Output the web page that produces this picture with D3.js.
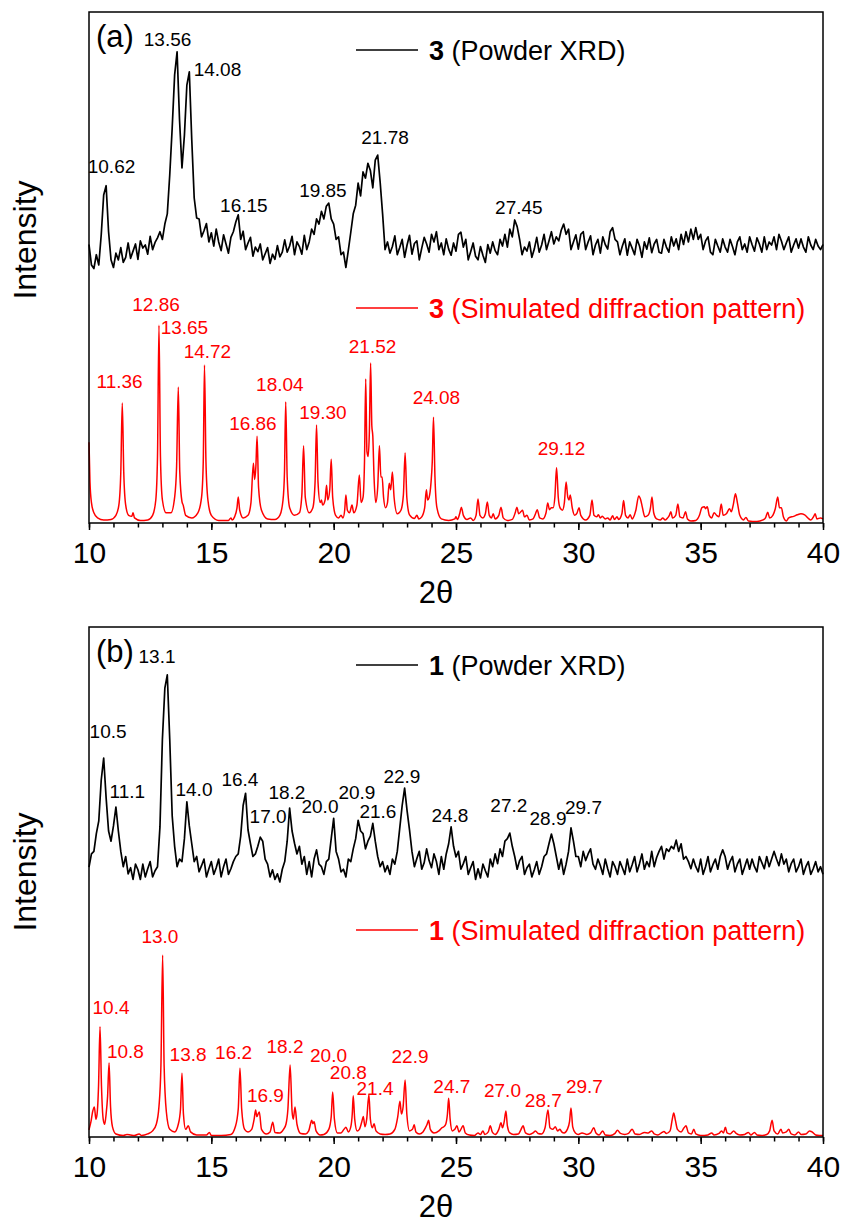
<!DOCTYPE html>
<html lang="en">
<head>
<meta charset="utf-8">
<title>XRD patterns</title>
<style>
  body { margin: 0; background: #fff; }
  svg { display: block; font-family: "Liberation Sans", Arial, sans-serif; }
  .tick text { font-size: 30px; fill: #000; }
  .tick line { stroke: #000; stroke-width: 1.5; }
</style>
</head>
<body>
<div id="chart"></div>
<script src="https://d3js.org/d3.v7.min.js"></script>
<script>
// ---- data ----
// powder patterns: measured on a 0.1 deg grid starting at 10 deg
var gridStart = 10, gridStep = 0.1;

var powder3 = [
  54.5,50.5,49.8,52.5,50.5,56.4,64.2,66.0,57.0,51.5,
  50.0,52.8,51.5,53.9,51.0,52.0,54.8,51.8,53.2,54.6,
  51.6,55.2,53.8,54.4,52.6,56.1,53.5,54.9,55.8,57.0,
  55.5,58.5,60.5,68.1,77.3,87.7,92.2,78.9,69.5,75.9,
  85.7,88.3,75.0,63.6,59.7,59.5,56.0,57.2,58.6,55.0,
  56.8,54.2,57.5,55.0,53.3,56.4,54.6,52.8,55.9,57.0,
  58.9,60.3,55.5,57.1,53.5,54.8,55.9,52.2,54.0,53.1,
  54.6,51.5,52.7,53.9,50.8,52.6,51.6,54.3,52.1,53.0,
  55.4,53.0,54.2,56.1,52.5,55.0,54.1,52.6,56.3,53.5,
  55.0,57.5,56.5,59.5,58.5,61.0,59.5,62.0,62.6,59.5,
  58.5,55.5,56.0,52.5,53.0,50.0,53.4,56.9,60.5,62.2,
  66.5,64.0,68.7,67.5,70.4,69.0,65.6,71.0,72.0,66.7,
  60.5,53.5,55.0,52.8,54.1,56.2,52.5,53.9,55.5,52.0,
  54.4,56.3,52.6,54.7,55.2,51.5,53.8,55.9,54.6,53.0,
  56.5,55.0,57.0,53.5,54.8,52.5,55.6,53.6,52.4,54.8,
  53.2,56.5,56.9,54.0,55.5,51.5,53.1,54.8,52.2,51.5,
  54.1,52.4,51.0,54.5,52.8,55.0,53.3,52.5,55.5,54.2,
  56.5,54.0,57.5,56.0,59.3,58.0,55.5,52.5,54.0,53.2,
  55.0,52.0,53.6,55.9,53.0,54.4,56.5,53.5,55.2,57.0,
  54.6,56.0,55.2,57.3,58.5,56.5,57.5,53.5,55.0,56.4,
  53.6,56.5,57.0,53.5,55.0,56.2,52.5,54.4,55.5,52.8,
  56.0,54.5,53.6,57.0,57.8,55.5,55.0,52.5,54.2,55.6,
  52.4,55.0,53.8,52.5,55.5,54.2,52.0,55.0,53.6,55.8,
  52.9,54.6,55.5,53.0,52.8,55.5,54.0,53.0,56.0,54.2,
  55.6,53.5,56.5,54.5,57.0,55.0,57.5,55.5,57.8,55.5,
  56.5,53.5,55.2,56.0,53.0,52.5,55.5,54.2,53.0,55.6,
  54.0,53.0,55.5,54.1,52.5,55.0,56.0,53.5,54.6,53.0,
  56.0,54.5,53.2,55.8,54.6,53.0,56.0,53.5,55.0,54.4,
  56.0,53.5,56.5,55.2,53.5,54.8,56.0,53.0,54.4,55.6,
  53.8,55.6,54.0,53.0,56.0,54.4,53.5,55.5,54.2,53.5,
  54.5
];

var powder1 = [
  52.9,55.5,56.0,59.5,62.0,70.0,74.3,66.5,60.0,58.0,
  61.0,64.7,60.0,56.0,53.0,55.0,51.6,52.8,50.5,53.5,
  52.4,50.5,53.5,51.0,52.6,54.0,51.0,52.2,53.0,60.8,
  78.0,88.0,90.6,78.0,63.0,57.0,53.0,54.5,54.0,58.5,
  65.7,61.0,57.5,54.0,55.0,52.0,53.2,54.5,51.0,52.6,
  54.0,51.5,52.8,54.5,51.0,53.0,54.5,51.5,52.6,54.0,
  55.0,55.5,59.0,65.0,67.4,60.2,57.5,55.0,55.5,57.0,
  58.8,58.0,54.5,53.5,51.0,52.4,50.5,51.6,50.0,52.5,
  54.0,58.0,64.5,60.0,57.6,55.5,57.0,53.5,55.0,51.5,
  54.0,51.0,54.5,56.3,53.5,53.0,51.5,54.0,54.5,58.5,
  62.5,56.0,54.5,52.0,52.5,51.0,54.5,54.0,56.5,58.5,
  62.1,60.0,59.5,56.5,58.0,59.0,61.5,58.0,55.0,53.0,
  54.0,52.0,53.2,51.5,54.5,53.5,56.0,60.5,65.0,68.4,
  64.0,60.2,56.0,53.0,54.6,56.0,52.5,53.8,56.5,54.2,
  52.8,55.5,54.0,51.5,55.0,52.5,55.5,57.5,60.8,57.0,
  54.9,56.0,52.5,53.6,55.0,51.5,52.8,54.0,50.5,52.6,
  50.8,53.5,52.2,51.0,54.5,53.0,55.5,53.6,56.5,55.0,
  58.0,58.5,59.6,57.0,55.0,52.5,54.2,55.0,51.5,52.8,
  53.5,51.0,52.4,54.0,51.5,53.0,55.0,55.5,57.5,59.4,
  57.5,55.0,52.5,54.5,51.5,53.5,56.0,60.6,58.0,55.0,
  55.0,53.0,56.0,54.2,55.5,56.5,53.5,52.5,54.5,53.2,
  51.5,54.5,52.6,51.0,54.0,53.0,51.5,54.0,52.8,51.5,
  54.5,52.0,53.4,55.0,52.0,53.6,55.5,52.5,54.0,53.0,
  56.0,53.0,54.8,56.0,57.0,54.5,56.5,56.0,57.0,56.5,
  58.2,56.0,57.5,54.5,55.0,54.0,52.6,54.5,53.0,52.0,
  54.5,51.5,53.0,55.0,52.0,53.4,54.5,52.5,55.0,56.3,
  55.0,52.5,54.0,55.0,52.0,53.5,54.5,51.5,53.0,54.5,
  52.5,54.5,53.0,52.0,55.0,53.8,52.6,55.0,53.0,54.5,
  56.0,54.5,53.2,55.5,53.5,54.5,52.0,53.6,54.5,52.0,
  53.0,54.5,51.5,53.0,54.0,51.5,52.6,54.0,52.0,53.0,
  51.5
];

// simulated patterns: [2theta, intensity]
var sim3 = [
  [10.00,15.8],[10.04,8],[10.1,4],[10.2,2],[10.35,1],[10.6,0.6],[10.9,0.7],[11.1,1.5],[11.22,3.5],[11.3,10],
  [11.36,23.5],[11.42,10],[11.5,3.5],[11.62,1.5],[11.75,1.3],[11.8,2.0],[11.86,1.0],[12.1,0.5],[12.4,0.6],[12.6,1.5],
  [12.73,4.5],[12.8,13],[12.86,38.7],[12.92,13],[13.0,4.5],[13.15,2],[13.35,2],[13.5,5],[13.58,11],[13.65,26.6],
  [13.71,10],[13.8,4.2],[13.85,3.5],[13.95,1.5],[14.2,1],[14.45,2],[14.6,5],[14.67,12],[14.72,30.9],[14.78,12],
  [14.86,4.5],[15.0,1.5],[15.3,0.5],[15.7,0.5],[15.8,1.0],[15.85,0.6],[15.95,1.2],[16.05,3],[16.1,5.1],[16.16,2.5],
  [16.3,1.0],[16.5,1.5],[16.62,4],[16.72,11.7],[16.77,8.5],[16.82,11],[16.87,17.0],[16.93,7],[17.05,2.5],[17.3,0.8],
  [17.6,0.7],[17.8,1.5],[17.93,4.5],[17.99,10],[18.04,23.7],[18.1,9],[18.2,3],[18.4,1.5],[18.6,2],[18.7,5.5],
  [18.77,15.1],[18.84,5],[19.0,2],[19.15,3],[19.24,8],[19.3,19.2],[19.36,8],[19.45,4],[19.5,4.5],[19.55,3.5],
  [19.65,4.5],[19.71,7.4],[19.76,4.5],[19.84,6.5],[19.9,12.5],[19.96,5],[20.08,1.5],[20.2,1],[20.3,1.5],[20.38,1.0],
  [20.45,2.5],[20.5,5.5],[20.56,2.5],[20.65,2],[20.75,3.5],[20.82,2],[20.95,3.5],[21.05,9.4],[21.12,4],[21.2,5],
  [21.26,12],[21.31,28.2],[21.36,14],[21.41,13],[21.46,18],[21.51,31.3],[21.56,19],[21.6,17],[21.65,9],[21.72,4],
  [21.8,7],[21.87,15.1],[21.93,9],[21.98,9.0],[22.04,5],[22.12,3],[22.2,4],[22.27,7.8],[22.33,6.5],[22.4,10.0],
  [22.47,5],[22.6,1.8],[22.75,2.5],[22.85,5.5],[22.92,13.7],[22.99,5],[23.1,1.6],[23.3,0.9],[23.4,1.5],[23.48,0.8],
  [23.6,1.2],[23.72,3],[23.79,6.5],[23.84,4.5],[23.9,5],[23.98,8],[24.03,12],[24.08,20.7],[24.14,9],[24.22,3],
  [24.4,0.8],[24.7,0.5],[24.95,0.8],[25.0,1.2],[25.06,0.7],[25.15,1.8],[25.22,3.1],[25.3,1.5],[25.45,0.7],[25.6,1.0],
  [25.7,0.5],[25.82,1.5],[25.9,4.7],[25.98,1.5],[26.1,1],[26.2,1.8],[26.28,4.1],[26.36,1.5],[26.45,1.0],[26.52,1.8],
  [26.6,0.8],[26.75,1.5],[26.84,3.1],[26.93,1.0],[27.1,0.5],[27.3,0.7],[27.42,2.0],[27.49,3.1],[27.56,1.8],[27.65,2.2],
  [27.72,2.5],[27.8,1.2],[27.9,1.5],[28.0,0.6],[28.15,0.8],[28.25,1.8],[28.32,2.6],[28.42,1.0],[28.55,0.8],[28.68,2],
  [28.75,3.9],[28.82,2.6],[28.9,3],[28.97,3.0],[29.04,5],[29.11,10.8],[29.18,5],[29.25,3],[29.35,2.5],[29.43,4],
  [29.5,8.0],[29.57,5],[29.62,4.5],[29.67,5.5],[29.75,3],[29.85,1.5],[29.95,2],[30.03,3.0],[30.1,1.5],[30.3,0.6],
  [30.47,1.5],[30.56,4.5],[30.64,1.5],[30.75,1.2],[30.82,1.6],[30.9,1.0],[30.98,1.3],[31.1,0.8],[31.2,1.0],[31.3,0.6],
  [31.4,1.4],[31.48,0.7],[31.58,1.2],[31.65,0.7],[31.78,1.8],[31.85,4.4],[31.93,1.5],[32.03,1.0],[32.12,1.6],[32.2,0.8],
  [32.35,2.5],[32.47,5.3],[32.55,4.5],[32.62,3.0],[32.72,1.2],[32.85,1.5],[32.95,3],[33.01,5.1],[33.08,2],[33.2,0.8],
  [33.35,0.6],[33.45,1.0],[33.55,0.6],[33.65,1.0],[33.72,1.5],[33.78,2.2],[33.85,1.0],[33.98,1.5],[34.07,3.7],[34.15,1.2],
  [34.28,1.0],[34.38,2.2],[34.46,0.8],[34.6,0.4],[34.8,0.5],[34.95,1.5],[35.05,3.0],[35.15,3.2],[35.2,2.8],[35.27,3.2],
  [35.35,1.5],[35.45,1.0],[35.55,2.0],[35.65,1.5],[35.75,1.2],[35.84,3.7],[35.92,1.5],[36.05,1.8],[36.18,2.8],[36.25,2.2],
  [36.33,3.5],[36.42,5.7],[36.5,4.0],[36.6,1.5],[36.75,0.6],[36.85,1.1],[36.95,0.4],[37.3,0.3],[37.55,0.6],[37.65,1.0],
  [37.74,2.1],[37.82,1.0],[37.95,1.5],[38.05,2.8],[38.15,5.1],[38.22,3.0],[38.3,3.0],[38.38,1.2],[38.5,0.4],[38.6,1.0],
  [38.8,1.3],[38.95,1.6],[39.1,1.8],[39.25,1.6],[39.4,0.9],[39.5,0.6],[39.62,1.3],[39.68,1.8],[39.75,0.8],[39.9,1.0],
  [40.0,0.8]
];

var sim1 = [
  [10.0,1.4],[10.08,3],[10.15,5],[10.22,5.9],[10.28,3.5],[10.33,4.5],[10.39,10],[10.45,21.6],[10.51,10],[10.58,3.5],
  [10.64,2.5],[10.7,4.5],[10.76,8],[10.82,14.5],[10.88,6],[10.96,2],[11.1,0.6],[11.4,0.3],[11.55,0.5],[11.7,0.4],
  [11.85,0.3],[12.05,0.6],[12.15,0.3],[12.4,0.6],[12.6,1.2],[12.75,2.5],[12.86,6],[12.94,14],[13.01,35.7],[13.07,14],
  [13.16,5],[13.3,1.5],[13.5,1],[13.65,2.5],[13.74,5.5],[13.8,12.5],[13.86,4.5],[13.95,1.5],[14.06,2.2],[14.15,1],
  [14.4,0.4],[14.8,0.4],[14.92,0.9],[15.0,0.3],[15.4,0.3],[15.8,0.5],[15.98,2],[16.1,5.5],[16.17,13.5],[16.24,5.5],
  [16.36,1.5],[16.5,1.0],[16.65,1.5],[16.75,3.5],[16.81,5.3],[16.86,4],[16.91,4.5],[16.96,4.9],[17.05,1.5],[17.25,0.6],
  [17.4,1.0],[17.51,2.9],[17.6,0.9],[17.8,0.8],[17.95,1.5],[18.05,2.5],[18.13,5.5],[18.22,14.1],[18.3,5],[18.35,3.5],
  [18.42,5.9],[18.5,2.5],[18.65,0.7],[18.85,0.6],[18.98,1.2],[19.05,2.5],[19.1,3.3],[19.15,2.6],[19.2,3.0],[19.28,1.2],
  [19.45,0.4],[19.6,0.5],[19.8,1.5],[19.9,4],[19.96,8.8],[20.03,3.5],[20.15,0.8],[20.3,0.8],[20.42,1.5],[20.5,1.9],
  [20.6,1.0],[20.7,2],[20.76,4.5],[20.8,8.1],[20.86,3.5],[20.96,1.2],[21.05,1.5],[21.15,3],[21.21,4.0],[21.28,2],
  [21.35,3.5],[21.44,8.3],[21.5,3.5],[21.58,1.8],[21.65,2.6],[21.73,1.2],[21.9,0.6],[22.1,0.5],[22.3,0.6],[22.5,1.5],
  [22.62,4],[22.71,7.0],[22.77,4.5],[22.84,6],[22.92,11.2],[22.99,4.5],[23.1,1.2],[23.22,1.5],[23.29,2.4],[23.36,1.0],
  [23.5,0.6],[23.65,1.0],[23.75,1.8],[23.82,2.5],[23.88,3.3],[23.95,1.5],[24.1,0.8],[24.3,1.2],[24.42,1.8],[24.5,2.0],
  [24.58,2.5],[24.65,4.5],[24.7,7.6],[24.76,3.5],[24.85,1.2],[24.95,1.5],[25.04,2.2],[25.12,1.0],[25.2,1.5],[25.29,2.2],
  [25.38,0.8],[25.55,0.4],[25.75,0.3],[25.9,0.8],[26.0,0.5],[26.1,1.2],[26.18,0.5],[26.32,1.0],[26.4,2.2],[26.48,1.0],
  [26.6,0.5],[26.75,1.5],[26.84,2.8],[26.9,1.8],[26.97,3],[27.04,5.1],[27.1,2.2],[27.2,0.8],[27.35,0.5],[27.55,0.6],
  [27.66,1.5],[27.74,2.2],[27.84,0.8],[28.0,0.5],[28.15,0.8],[28.25,1.2],[28.35,0.7],[28.5,0.6],[28.64,1.8],[28.76,5.3],
  [28.84,1.8],[28.95,1.5],[29.06,2.0],[29.15,1.2],[29.25,1.5],[29.32,1.0],[29.42,0.8],[29.55,1.5],[29.64,3],[29.7,5.7],
  [29.77,2],[29.88,0.8],[30.0,0.5],[30.15,0.8],[30.35,0.5],[30.5,0.8],[30.63,1.8],[30.72,0.8],[30.85,0.4],[31.0,1.2],
  [31.1,0.4],[31.3,0.3],[31.5,0.7],[31.6,1.3],[31.72,0.7],[31.9,0.5],[32.05,0.7],[32.2,1.5],[32.32,0.6],[32.5,0.5],
  [32.7,0.9],[32.85,0.8],[33.0,1.2],[33.1,0.6],[33.25,0.4],[33.42,0.9],[33.5,1.1],[33.6,0.7],[33.75,1.2],[33.84,3.5],
  [33.9,4.7],[33.97,3.2],[34.05,1.5],[34.2,1.0],[34.32,1.8],[34.4,2.2],[34.5,0.8],[34.62,0.6],[34.72,1.5],[34.8,0.6],
  [35.0,0.3],[35.3,0.4],[35.45,0.8],[35.55,0.4],[35.75,0.7],[35.85,1.2],[35.93,0.8],[36.01,1.9],[36.08,0.8],[36.2,0.6],
  [36.35,1.2],[36.45,0.7],[36.6,0.4],[36.8,0.5],[36.95,0.9],[37.05,0.4],[37.2,0.9],[37.3,0.4],[37.5,0.3],[37.7,0.5],
  [37.82,1.2],[37.92,3.3],[38.0,1.2],[38.15,0.6],[38.28,1.5],[38.35,0.8],[38.5,1.0],[38.6,1.5],[38.7,0.6],[38.85,0.4],
  [39.0,1.0],[39.1,0.5],[39.3,0.6],[39.45,1.2],[39.55,1.0],[39.7,0.4],[39.85,0.3],[40.0,0.3]
];

// peak labels: text, 2theta and intensity of the label anchor
var labels3Powder = [
  ["10.62",10.92,68.5],["13.56",13.21,93.3],["14.08",15.25,87.5],["16.15",16.33,60.9],
  ["19.85",19.56,63.8],["21.78",22.10,74.2],["27.45",27.57,60.5]
];
var labels3Sim = [
  ["11.36",11.25,26.4],["12.86",12.74,41.5],["13.65",13.90,37.0],["14.72",14.84,32.3],
  ["16.86",16.70,18.2],["18.04",17.80,25.8],["19.30",19.56,20.4],["21.52",21.59,33.3],
  ["24.08",24.20,23.3],["29.12",29.31,13.3]
];
var labels1Powder = [
  ["10.5",10.78,78.2],["13.1",12.78,92.9],["11.1",11.57,66.4],["14.0",14.29,66.8],
  ["16.4",16.17,68.8],["17.0",17.32,61.5],["18.2",18.09,66.2],["20.0",19.44,63.5],
  ["20.9",20.95,66.2],["21.6",21.81,62.5],["22.9",22.79,69.4],["24.8",24.75,61.7],
  ["27.2",27.16,63.7],["28.9",28.76,61.2],["29.7",30.21,63.3]
];
var labels1Sim = [
  ["13.0",12.90,38.0],["10.4",10.90,24.1],["10.8",11.49,15.5],["13.8",14.05,14.9],
  ["16.2",15.91,15.3],["16.9",17.21,6.9],["18.2",18.01,16.5],["20.0",19.79,14.7],
  ["20.8",20.60,11.4],["21.4",21.69,8.2],["22.9",23.12,14.5],["24.7",24.83,8.6],
  ["27.0",26.90,7.8],["28.7",28.57,5.9],["29.7",30.25,8.6]
];

var majorTicks = [10, 15, 20, 25, 30, 35, 40];
var minorTicks = d3.range(10, 41, 1);

// ---- drawing ----
var width = 844, height = 1228;
var left = 89, right = 823;
var red = "#ff0000";

var svg = d3.select("#chart").append("svg")
  .attr("width", width)
  .attr("height", height);

var xScale = d3.scaleLinear().domain([10, 40]).range([left, right]);

function draw_panel(p) {
  var yScale = d3.scaleLinear().domain([0, 100]).range([p.bottom, p.top]);
  var g = svg.append("g");

  var powderPts = p.powder.map(function(v, i) { return [gridStart + i * gridStep, v]; });

  var line = d3.line()
    .x(function(d) { return xScale(d[0]); })
    .y(function(d) { return yScale(d[1]); });

  g.append("path")
    .datum(powderPts)
    .attr("d", line)
    .attr("fill", "none")
    .attr("stroke", "#000")
    .attr("stroke-width", 1.7)
    .attr("stroke-linejoin", "round");

  g.append("path")
    .datum(p.sim)
    .attr("d", line.curve(d3.curveMonotoneX))
    .attr("fill", "none")
    .attr("stroke", red)
    .attr("stroke-width", 1.5);

  // minor ticks
  g.append("g")
    .attr("transform", "translate(0," + p.bottom + ")")
    .call(d3.axisBottom(xScale).tickValues(minorTicks).tickSize(4.5).tickFormat(""))
    .call(function(a) { a.select(".domain").remove(); });

  // major ticks
  g.append("g")
    .attr("transform", "translate(0," + p.bottom + ")")
    .call(d3.axisBottom(xScale).tickValues(majorTicks).tickSize(7).tickPadding(12).tickFormat(d3.format("d")))
    .call(function(a) { a.select(".domain").remove(); });

  // frame
  g.append("rect")
    .attr("x", left)
    .attr("y", p.top)
    .attr("width", right - left)
    .attr("height", p.bottom - p.top)
    .attr("fill", "none")
    .attr("stroke", "#000")
    .attr("stroke-width", 1.5);

  // peak labels
  g.selectAll(null)
    .data(p.labPowder)
    .enter().append("text")
    .attr("x", function(d) { return xScale(d[1]); })
    .attr("y", function(d) { return yScale(d[2]); })
    .attr("text-anchor", "middle")
    .attr("font-size", "19px")
    .attr("fill", "#000")
    .text(function(d) { return d[0]; });

  g.selectAll(null)
    .data(p.labSim)
    .enter().append("text")
    .attr("x", function(d) { return xScale(d[1]); })
    .attr("y", function(d) { return yScale(d[2]); })
    .attr("text-anchor", "middle")
    .attr("font-size", "19px")
    .attr("fill", red)
    .text(function(d) { return d[0]; });

  // panel letter
  g.append("text")
    .attr("x", 96)
    .attr("y", p.top + 35)
    .attr("font-size", "31px")
    .text(p.letter);

  // legends
  var legends = [
    { y: p.top + 38, color: "#000", label: " (Powder XRD)" },
    { y: p.simLegend, color: red, label: " (Simulated diffraction pattern)" }
  ];
  legends.forEach(function(l) {
    g.append("line")
      .attr("x1", 356).attr("x2", 418)
      .attr("y1", l.y).attr("y2", l.y)
      .attr("stroke", l.color)
      .attr("stroke-width", 1.6);
    var t = g.append("text")
      .attr("x", 429)
      .attr("y", l.y + 10)
      .attr("font-size", "27px")
      .attr("fill", l.color);
    t.append("tspan").attr("font-weight", "bold").text(p.compound);
    t.append("tspan").text(l.label);
  });

  // axis titles
  g.append("text")
    .attr("x", 436)
    .attr("y", p.bottom + 80)
    .attr("text-anchor", "middle")
    .attr("font-size", "31px")
    .text("2\u03b8");

  g.append("text")
    .attr("transform", "translate(36," + p.yTitle + ") rotate(-90)")
    .attr("text-anchor", "middle")
    .attr("font-size", "32px")
    .text("Intensity");
}

draw_panel({
  top: 12, bottom: 523, letter: "(a)", compound: "3",
  powder: powder3, sim: sim3, labPowder: labels3Powder, labSim: labels3Sim,
  simLegend: 308, yTitle: 240
});

draw_panel({
  top: 627, bottom: 1137, letter: "(b)", compound: "1",
  powder: powder1, sim: sim1, labPowder: labels1Powder, labSim: labels1Sim,
  simLegend: 930, yTitle: 872
});
</script>
</body>
</html>
